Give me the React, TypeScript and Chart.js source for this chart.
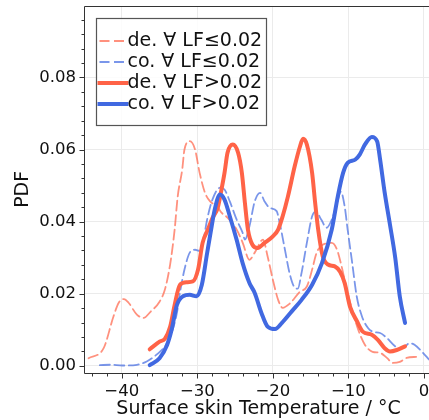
import React, { useEffect, useRef } from "react";
import { Chart, registerables } from "chart.js";

Chart.register(...registerables);

const FONT = '"DejaVu Sans", "Liberation Sans", sans-serif';

// Axis ticks
const xTickValues = [-40, -30, -20, -10, 0];
const yTickValues = [0, 0.02, 0.04, 0.06, 0.08];

const xTitle = "Surface skin Temperature / °C";
const yTitle = "PDF";

// de. ∀ LF≤0.02
const deLowTemp = [-44.4, -42.4, -41.1, -40.4, -39.7, -39.1, -38.0, -37.1, -36.2, -35.0, -34.3, -33.6, -33.0, -32.6, -32.0, -31.7, -31.0, -30.3, -29.7, -29.0, -28.3, -27.4, -26.8, -26.0, -24.8, -24.0, -23.1, -22.4, -21.3, -20.7, -20.0, -19.3, -18.7, -17.8, -16.4, -15.5, -14.8, -14.2, -13.4, -12.2, -11.5, -10.9, -10.2, -9.5, -8.7, -7.8, -6.8, -5.8, -4.9, -4.1, -3.2, -2.3, -0.9];
const deLowPdf = [0.0021, 0.0049, 0.0137, 0.0175, 0.0185, 0.0175, 0.0142, 0.0133, 0.0150, 0.0178, 0.0211, 0.0281, 0.0378, 0.0469, 0.0544, 0.0600, 0.0623, 0.0600, 0.0536, 0.0481, 0.0456, 0.0443, 0.0425, 0.0411, 0.0378, 0.0342, 0.0294, 0.0314, 0.0350, 0.0304, 0.0239, 0.0183, 0.0161, 0.0172, 0.0206, 0.0220, 0.0267, 0.0314, 0.0336, 0.0341, 0.0322, 0.0276, 0.0211, 0.0156, 0.0100, 0.0058, 0.0039, 0.0036, 0.0022, 0.0008, 0.0011, 0.0022, 0.0025];

// co. ∀ LF≤0.02
const coLowTemp = [-42.9, -41.5, -39.9, -38.0, -36.7, -35.4, -34.3, -33.4, -32.7, -32.3, -31.7, -31.0, -30.3, -29.7, -29.3, -28.7, -28.0, -27.0, -26.4, -25.7, -24.8, -24.0, -23.7, -23.1, -22.4, -21.7, -21.1, -20.4, -19.5, -19.1, -18.4, -17.8, -17.1, -16.7, -16.2, -15.5, -14.8, -14.3, -13.6, -12.9, -12.1, -11.5, -11.0, -10.5, -10.1, -9.5, -8.9, -8.2, -7.4, -6.8, -5.8, -4.9, -3.8, -2.8, -1.9, -1.2, -0.3, 0.7];
const coLowPdf = [0.0002, 0.0003, 0.0001, 0.0003, 0.0012, 0.0031, 0.0054, 0.0092, 0.0147, 0.0203, 0.0267, 0.0314, 0.0322, 0.0319, 0.0336, 0.0406, 0.0461, 0.0494, 0.0489, 0.0456, 0.0406, 0.0369, 0.0350, 0.0387, 0.0456, 0.0480, 0.0456, 0.0438, 0.0429, 0.0397, 0.0322, 0.0258, 0.0217, 0.0214, 0.0258, 0.0341, 0.0415, 0.0428, 0.0406, 0.0383, 0.0411, 0.0452, 0.0483, 0.0443, 0.0378, 0.0286, 0.0193, 0.0137, 0.0105, 0.0095, 0.0091, 0.0077, 0.0054, 0.0049, 0.0063, 0.0058, 0.0040, 0.0017];

// de. ∀ LF>0.02
const deHighTemp = [-36.3, -35.0, -34.3, -33.6, -33.0, -32.3, -31.4, -30.6, -29.9, -29.3, -28.6, -28.0, -27.3, -26.8, -26.4, -26.0, -25.3, -24.6, -24.1, -23.7, -23.3, -22.7, -22.0, -21.1, -20.0, -19.3, -18.7, -18.0, -17.1, -16.4, -16.0, -15.5, -14.8, -14.4, -14.0, -13.4, -12.7, -11.8, -11.1, -10.5, -9.8, -8.9, -8.1, -6.9, -6.1, -5.2, -4.5, -3.6, -2.5];
const deHighPdf = [0.0046, 0.0067, 0.0075, 0.0108, 0.0169, 0.0225, 0.0232, 0.0234, 0.0267, 0.0341, 0.0378, 0.0410, 0.0438, 0.0489, 0.0535, 0.0591, 0.0614, 0.0591, 0.0535, 0.0452, 0.0378, 0.0336, 0.0327, 0.0341, 0.0359, 0.0378, 0.0415, 0.0470, 0.0554, 0.0609, 0.0630, 0.0614, 0.0535, 0.0452, 0.0378, 0.0304, 0.0281, 0.0276, 0.0261, 0.0230, 0.0165, 0.0125, 0.0095, 0.0086, 0.0072, 0.0049, 0.0040, 0.0044, 0.0054];

// co. ∀ LF>0.02
const coHighTemp = [-36.3, -35.0, -34.0, -33.4, -32.7, -31.9, -31.0, -30.1, -29.4, -28.7, -28.1, -27.7, -27.0, -26.4, -25.7, -24.8, -24.0, -23.1, -22.4, -21.5, -20.7, -19.7, -18.8, -17.5, -16.2, -14.8, -13.5, -12.2, -11.4, -10.7, -10.1, -9.1, -8.5, -7.8, -6.9, -6.2, -5.8, -5.2, -4.5, -3.8, -3.2, -2.5];
const coHighPdf = [0.0002, 0.0021, 0.0058, 0.0100, 0.0169, 0.0193, 0.0197, 0.0193, 0.0225, 0.0313, 0.0387, 0.0433, 0.0475, 0.0461, 0.0415, 0.0350, 0.0285, 0.0230, 0.0202, 0.0146, 0.0109, 0.0102, 0.0119, 0.0151, 0.0183, 0.0225, 0.0285, 0.0378, 0.0470, 0.0535, 0.0563, 0.0572, 0.0586, 0.0614, 0.0635, 0.0623, 0.0572, 0.0481, 0.0392, 0.0300, 0.0193, 0.0119];

const RED = "rgb(255, 99, 71)";
const BLUE = "rgb(65, 105, 225)";
const RED_LIGHT = "rgba(255, 99, 71, 0.7)";
const BLUE_LIGHT = "rgba(65, 105, 225, 0.7)";
const SPINE = "#333333";
const GRID = "#ebebeb";
const TEXT = "#111111";

const DASH = [10, 4.5];

type Series = { label: string; temp: number[]; pdf: number[]; color: string; width: number; dash: number[] };

// legend order
const series: Series[] = [
  { label: "de. ∀ LF≤0.02", temp: deLowTemp, pdf: deLowPdf, color: RED_LIGHT, width: 1.8, dash: DASH },
  { label: "co. ∀ LF≤0.02", temp: coLowTemp, pdf: coLowPdf, color: BLUE_LIGHT, width: 1.8, dash: DASH },
  { label: "de. ∀ LF>0.02", temp: deHighTemp, pdf: deHighPdf, color: RED, width: 4, dash: [] },
  { label: "co. ∀ LF>0.02", temp: coHighTemp, pdf: coHighPdf, color: BLUE, width: 4, dash: [] },
];

const fmtX = (v: number) => (v < 0 ? "\u2212" + Math.abs(v) : String(v));

// top spine, minor ticks, major ticks and the boxed legend
const framePlugin = {
  id: "frameAndLegend",
  afterDraw(chart: any) {
    const { ctx, chartArea: a, scales } = chart;
    const xs = scales.x;
    const ys = scales.y;
    ctx.save();
    ctx.strokeStyle = SPINE;
    ctx.lineWidth = 1;
    const left = Math.round(a.left) + 0.5;
    const bottom = Math.round(a.bottom) + 0.5;
    const top = Math.round(a.top) + 0.5;
    ctx.beginPath();
    ctx.moveTo(left, bottom);
    ctx.lineTo(left, top);
    ctx.lineTo(a.right + 2, top);
    ctx.moveTo(left, bottom);
    ctx.lineTo(a.right + 2, bottom);
    ctx.stroke();

    ctx.beginPath();
    for (let v = 0; v <= 0.0965; v += 0.004) {
      const major = Math.abs(v / 0.02 - Math.round(v / 0.02)) < 1e-6;
      const py = Math.round(ys.getPixelForValue(v)) + 0.5;
      ctx.moveTo(left, py);
      ctx.lineTo(left - (major ? 5 : 3), py);
    }
    for (let v = -44; v <= 0; v += 2) {
      const major = v % 10 === 0;
      const px = Math.round(xs.getPixelForValue(v)) + 0.5;
      ctx.moveTo(px, bottom);
      ctx.lineTo(px, bottom + (major ? 5 : 3));
    }
    ctx.stroke();

    // legend
    const bx = Math.round(a.left) + 12.5;
    const by = Math.round(a.top) + 12.5;
    const bw = 170;
    const bh = 107;
    ctx.fillStyle = "rgba(255,255,255,0.85)";
    ctx.fillRect(bx, by, bw, bh);
    ctx.strokeStyle = "#555555";
    ctx.lineWidth = 1.2;
    ctx.strokeRect(bx, by, bw, bh);

    ctx.font = `19px ${FONT}`;
    ctx.textBaseline = "middle";
    ctx.textAlign = "left";
    series.forEach((s, i) => {
      const cy = by + 23 + i * 21;
      ctx.save();
      ctx.strokeStyle = s.color;
      ctx.lineWidth = s.width;
      ctx.setLineDash(s.dash);
      ctx.lineCap = s.dash.length ? "butt" : "square";
      ctx.beginPath();
      ctx.moveTo(bx + 3, cy - 0.5);
      ctx.lineTo(bx + 30, cy - 0.5);
      ctx.stroke();
      ctx.restore();
      ctx.fillStyle = TEXT;
      ctx.fillText(s.label, bx + 31, cy);
    });
    ctx.restore();
  },
};

export default function App() {
  const canvasRef = useRef<HTMLCanvasElement | null>(null);

  useEffect(() => {
    const canvas = canvasRef.current;
    if (!canvas) return;

    // draw order: thick co. on top
    const drawOrder = [3, 2, 1, 0];
    const datasets = drawOrder.map((i) => {
      const s = series[i];
      return {
        label: s.label,
        data: s.temp.map((t, k) => ({ x: t, y: s.pdf[k] })),
        borderColor: s.color,
        borderWidth: s.width,
        borderDash: s.dash,
        borderCapStyle: "round" as const,
        borderJoinStyle: "round" as const,
        pointRadius: 0,
        fill: false,
        cubicInterpolationMode: "monotone" as const,
      };
    });

    const chart = new Chart(canvas, {
      type: "line",
      data: { datasets },
      options: {
        animation: false,
        responsive: false,
        maintainAspectRatio: false,
        devicePixelRatio: 1,
        layout: { padding: { top: 6, right: 1, left: 0, bottom: 0 } },
        plugins: {
          legend: { display: false },
          tooltip: { enabled: false },
        },
        scales: {
          x: {
            type: "linear",
            min: -45,
            max: 1.2,
            afterBuildTicks: (scale: any) => {
              scale.ticks = xTickValues.map((value) => ({ value }));
            },
            afterFit: (scale: any) => {
              scale.height = 47.3;
              scale.paddingLeft = 0;
              scale.paddingRight = 0;
            },
            ticks: {
              callback: (v: any) => fmtX(Number(v)),
              font: { family: FONT, size: 16.5 },
              color: TEXT,
              padding: 9,
              maxRotation: 0,
              autoSkip: false,
            },
            grid: { color: GRID, lineWidth: 1, drawTicks: false },
            border: { display: false },
            title: {
              display: true,
              text: xTitle,
              font: { family: FONT, size: 19, lineHeight: 1.2 },
              color: TEXT,
              padding: { top: 0, bottom: 0 },
            },
          },
          y: {
            type: "linear",
            min: -0.0019,
            max: 0.0998,
            afterBuildTicks: (scale: any) => {
              scale.ticks = yTickValues.map((value) => ({ value }));
            },
            afterFit: (scale: any) => {
              scale.width = 84;
              scale.paddingTop = 0;
              scale.paddingBottom = 0;
            },
            ticks: {
              callback: (v: any) => Number(v).toFixed(2),
              font: { family: FONT, size: 16.5 },
              color: TEXT,
              padding: 8,
              autoSkip: false,
            },
            grid: { color: GRID, lineWidth: 1, drawTicks: false },
            border: { display: false },
            title: {
              display: true,
              text: yTitle,
              font: { family: FONT, size: 19, lineHeight: 1.2 },
              color: TEXT,
              padding: { top: 12, bottom: 0 },
            },
          },
        },
      },
      plugins: [framePlugin],
    });

    return () => chart.destroy();
  }, []);

  return (
    <div
      style={{
        position: "fixed",
        left: 0,
        top: 0,
        width: 429,
        height: 420,
        overflow: "hidden",
        background: "#ffffff",
      }}
    >
      <canvas ref={canvasRef} width={434} height={420} style={{ display: "block", width: 434, height: 420 }} />
    </div>
  );
}
